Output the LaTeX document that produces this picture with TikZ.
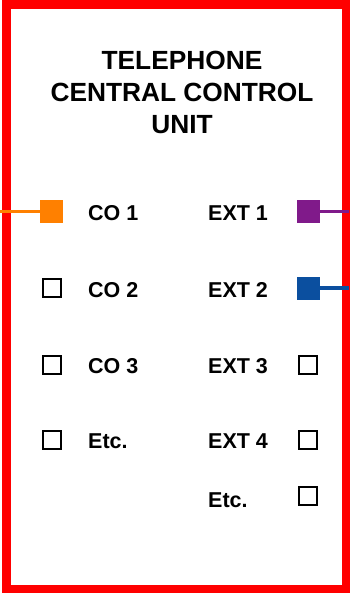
\documentclass[tikz,border=0pt]{standalone}
\usepackage{fontspec}
\setmainfont{Liberation Sans}
\usepackage{tikz}
\definecolor{frame}{RGB}{255,0,0}
\definecolor{coorange}{RGB}{255,128,0}
\definecolor{extpurple}{RGB}{128,26,138}
\definecolor{extblue}{RGB}{11,79,159}
\tikzstyle{port} = [draw=black, line width=2pt, minimum size=18pt, inner sep=0pt]
\tikzstyle{liveport} = [minimum size=23pt, inner sep=0pt]
\tikzstyle{label} = [anchor=west, inner sep=0pt, text height=15.5pt, text depth=0pt, font=\fontsize{21.5}{24}\selectfont\bfseries]
\tikzstyle{wire} = [line width=3.5pt]

\begin{document}
\begin{tikzpicture}[x=1pt,y=-1pt]
			\useasboundingbox (0,0) rectangle (349,593);
			\draw[frame, line width=8.5pt] (6.5,4.75) rectangle (346,589);
			
			\node(title) at (182,92.5) [align=center, font=\fontsize{26.3}{32}\selectfont\bfseries]{TELEPHONE\\CENTRAL CONTROL\\UNIT};
			
			\node(co1)[liveport, fill=coorange] at (51.5,211.5){};
			\node(co2)[port] at (52,288){};
			\node(co3)[port] at (52,364.5){};
			\node(co4)[port] at (52,439.5){};
			
			\node(co1l)[label] at (88,213){CO 1};
			\node(co2l)[label] at (88,289.5){CO 2};
			\node(co3l)[label] at (88,366){CO 3};
			\node(co4l)[label] at (88,441){Etc.};
			
			\node(ext1)[liveport, fill=extpurple] at (308.5,211.5){};
			\node(ext2)[liveport, fill=extblue] at (308.5,288){};
			\node(ext3)[port] at (308,364.5){};
			\node(ext4)[port] at (308,439.5){};
			\node(ext5)[port] at (308,496){};
			
			\node(ext1l)[label] at (208,213){EXT 1};
			\node(ext2l)[label] at (208,289.5){EXT 2};
			\node(ext3l)[label] at (208,366){EXT 3};
			\node(ext4l)[label] at (208,441){EXT 4};
			\node(ext5l)[label] at (208,499.5){Etc.};
			
			\coordinate(coin) at (0,211.5);
			\coordinate(extout1) at (349,211.5);
			\coordinate(extout2) at (349,288);
			\draw[wire, coorange](coin) -- (co1);
			\draw[wire, extpurple](ext1) -- (extout1);
			\draw[wire, extblue](ext2) -- (extout2);
		\end{tikzpicture}
\end{document}
